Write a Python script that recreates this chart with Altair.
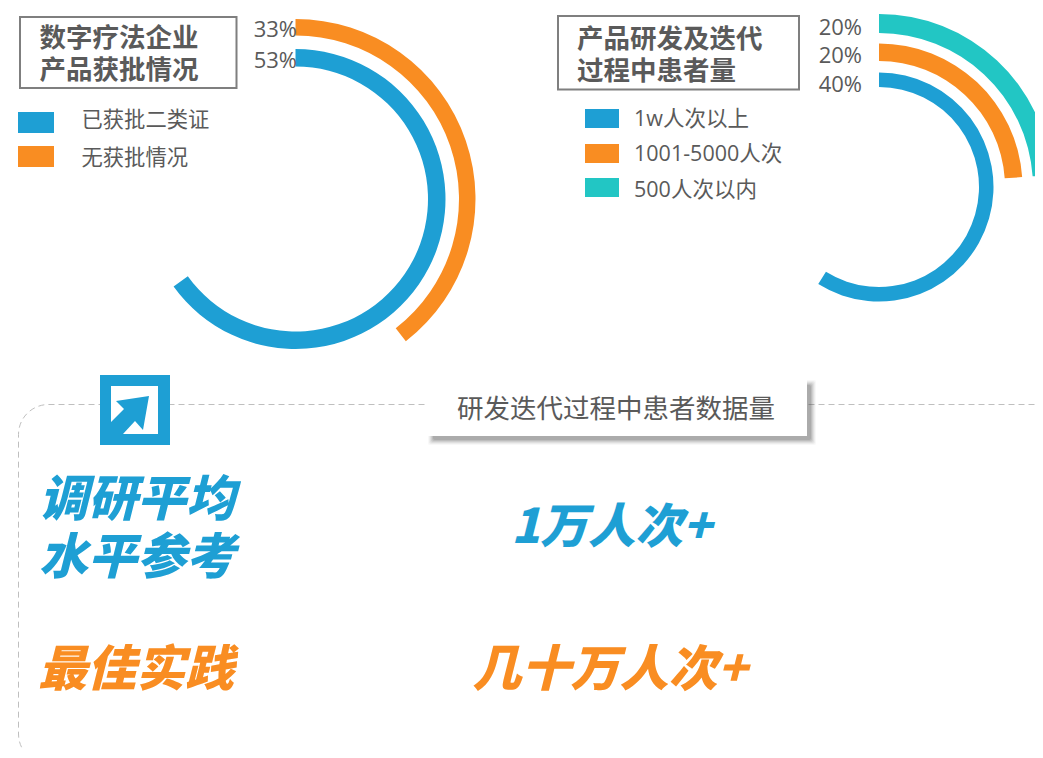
import altair as alt
import pandas as pd

BLUE, ORANGE, TEAL = "#1E9FD4", "#F98D22", "#22C6C4"
GRAY = "#5A5A5A"
CJK = "Open Sans, Noto Sans CJK SC, sans-serif"
BIG = "Noto Sans CJK SC, sans-serif"
W, H = 1027, 742
OFF = 8

# ---- data
left_legend = ["已获批二类证", "无获批情况"]
left_labels = ["53%", "33%"]
left_shares = [0.651, 0.395]      # arc length as a share of the full circle
right_legend = ["1w人次以上", "1001-5000人次", "500人次以内"]
right_labels = ["40%", "20%", "20%"]
right_shares = [0.589, 0.239, 0.239]


def px(v):
    return v - OFF


def arc(share, color, cx, cy, r0, r1):
    d = pd.DataFrame({"share": [share]})
    return alt.Chart(d).mark_arc(radius=r1, radius2=r0, color=color).encode(
        theta=alt.Theta("share:Q", scale=alt.Scale(domain=[0, 1], range=[0, 6.28318])),
        x=alt.value(px(cx)), y=alt.value(px(cy)),
    )


def box(x0, y0, x1, y1, **kw):
    d = pd.DataFrame({"a": [0]})
    return alt.Chart(d).mark_rect(**kw).encode(
        x=alt.value(px(x0)), x2=alt.value(px(x1)),
        y=alt.value(px(y0)), y2=alt.value(px(y1)),
    )


def label(s, x, y, size, align="left", color=GRAY, font=CJK, weight="normal", style="normal"):
    d = pd.DataFrame({"t": [s]})
    return alt.Chart(d).mark_text(
        align=align, baseline="middle", fontSize=size, color=color,
        font=font, fontWeight=weight, fontStyle=style,
    ).encode(text="t:N", x=alt.value(px(x)), y=alt.value(px(y)))


layers = []

# dashed panel
layers.append(box(18.5, 404.5, 1300, 764, filled=False, stroke="#BFBFBF", strokeWidth=1,
                  strokeDash=[6, 4], cornerRadius=30, clip=True))

# rings left
left_rings = [(132.5, 150), (163.5, 180)]
for s, c, (r0, r1) in zip(left_shares, [BLUE, ORANGE], left_rings):
    layers.append(arc(s, c, 295.5, 199, r0, r1))
# rings right
right_rings = [(100, 114.5), (126, 143.5), (154, 173)]
for s, c, (r0, r1) in zip(right_shares, [BLUE, ORANGE, TEAL], right_rings):
    layers.append(arc(s, c, 879, 187, r0, r1))

# title boxes
layers.append(box(20, 17, 236.5, 88, filled=False, stroke="#7F7F7F", strokeWidth=2))
layers.append(box(558, 16, 799, 89.5, filled=False, stroke="#7F7F7F", strokeWidth=2))
layers.append(label("数字疗法企业", 39.5, 38.5, 26.5, weight="bold"))
layers.append(label("产品获批情况", 39.5, 70.5, 26.5, weight="bold"))
layers.append(label("产品研发及迭代", 577, 40, 26.5, weight="bold"))
layers.append(label("过程中患者量", 577, 72, 26.5, weight="bold"))

# legends
for t, c, y0, y1, ty in zip(left_legend, [BLUE, ORANGE], [112, 146], [133, 167], [121, 159]):
    layers.append(box(18, y0, 54, y1, fill=c))
    layers.append(label(t, 81.5, ty, 21.3))
for t, c, y0, ty in zip(right_legend, [BLUE, ORANGE, TEAL], [109, 144, 178], [120, 155, 191]):
    layers.append(box(585, y0, 619, y0 + 19, fill=c))
    layers.append(label(t, 634, ty, 21.5))

# ring labels
for t, y in zip(left_labels, [61, 30]):
    layers.append(label(t, 297, y, 22, align="right"))
for t, y in zip(right_labels, [85, 56, 28]):
    layers.append(label(t, 862, y, 22, align="right"))

# icon
layers.append(box(100, 375, 170, 445, fill=BLUE))
layers.append(box(111, 386, 158, 434, fill="white"))
arrow = "M14.5,-14 L-18.5,-9 L-10.5,-1 L-23.5,12 L-23.5,24 L-11.5,24 L0.5,11 L8.5,20 Z"
layers.append(alt.Chart(pd.DataFrame({"a": [0]})).mark_point(
    shape=arrow, size=4, filled=True, fill=BLUE, opacity=1, strokeWidth=0
).encode(x=alt.value(px(134.5)), y=alt.value(px(410))))

# label card with soft shadow
for grow, op in [(3, 0.04), (2, 0.06), (1, 0.08), (0, 0.10), (-1, 0.12), (-2, 0.14)]:
    layers.append(box(431 - grow, 383 - grow, 807 + 6 + grow, 436 + 6 + grow,
                      fill="#404040", opacity=op, cornerRadius=2))
layers.append(box(425, 377, 807, 436, fill="white"))
layers.append(label("研发迭代过程中患者数据量", 616, 410, 26.5, align="center"))

# big callouts
kw = dict(font=BIG, weight=900, style="italic")
layers.append(label("调研平均", 39, 501, 49, color=BLUE, **kw))
layers.append(label("水平参考", 39, 559, 49, color=BLUE, **kw))
layers.append(label("最佳实践", 38, 670.5, 49, color=ORANGE, **kw))
layers.append(label("1万人次+", 611.5, 529, 47.5, align="center", color=BLUE, **kw))
layers.append(label("几十万人次+", 610, 670.5, 49, align="center", color=ORANGE, **kw))

chart = alt.layer(*layers).properties(
    width=W, height=H, padding=0, autosize=alt.AutoSizeParams(type="none"), background="white"
).configure_view(stroke=None)

chart.save("out.html", embed_options={"renderer": "svg", "actions": False})
